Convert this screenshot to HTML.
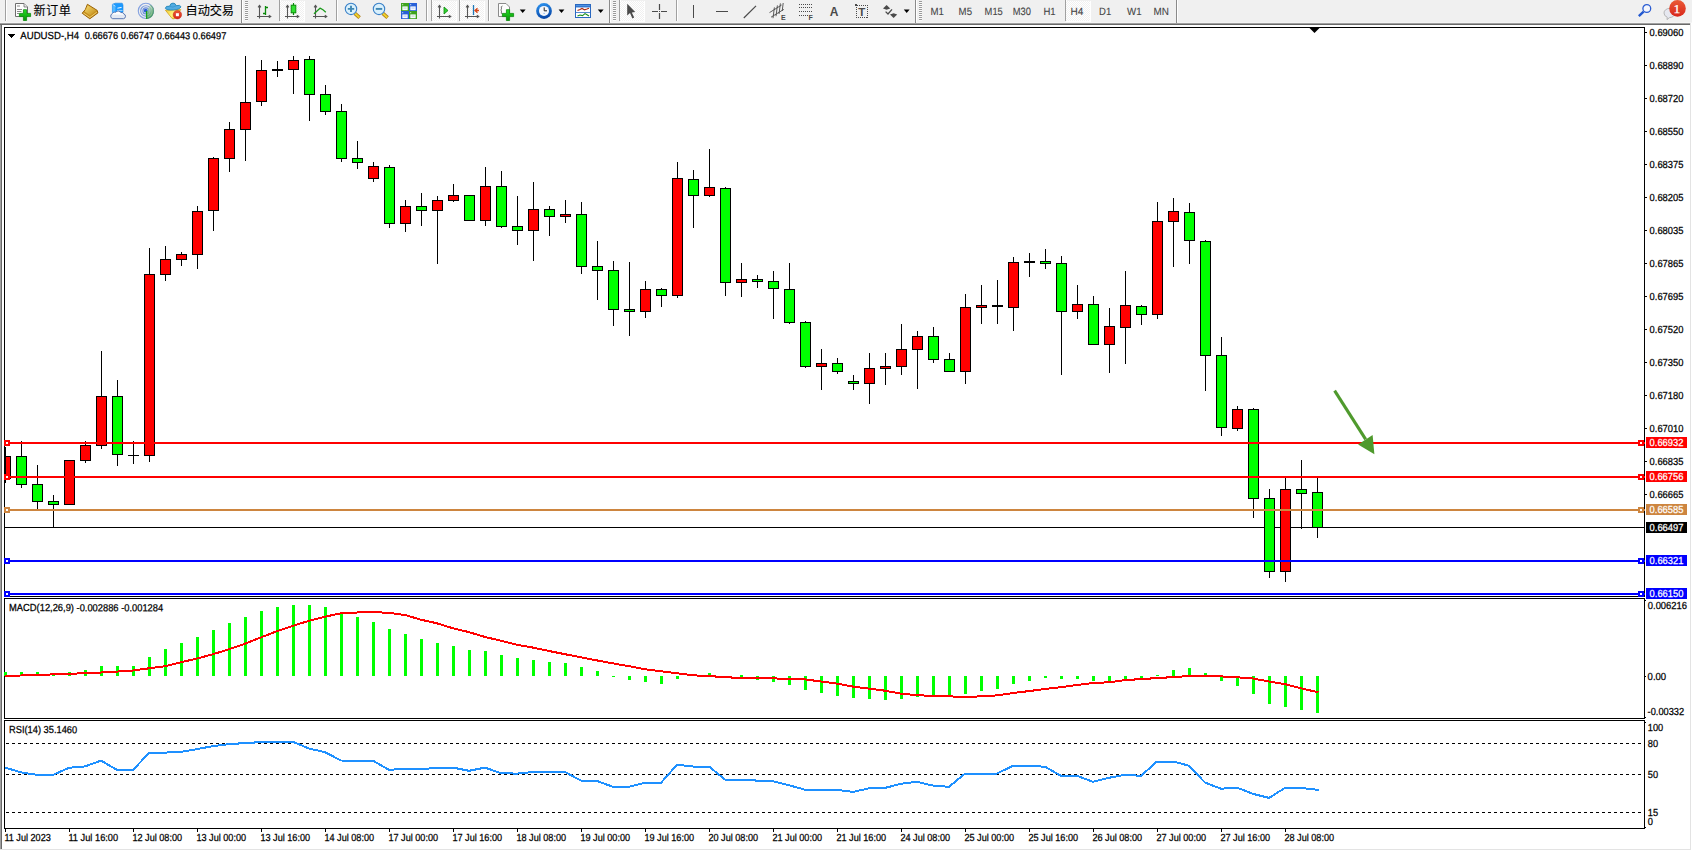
<!DOCTYPE html>
<html><head><meta charset="utf-8"><title>AUDUSD-,H4</title>
<style>
html,body{margin:0;padding:0;background:#fff;overflow:hidden}
svg{display:block;font-family:"Liberation Sans", "Noto Sans CJK SC", sans-serif;font-size:10px}
</style></head><body>
<svg width="1692" height="851" viewBox="0 0 1692 851">
<defs>
<pattern id="chk" width="2" height="2" patternUnits="userSpaceOnUse"><rect width="2" height="2" fill="#fff"/><rect width="1" height="1" fill="#f0f0f0"/><rect x="1" y="1" width="1" height="1" fill="#f0f0f0"/></pattern>
<linearGradient id="gplus" x1="0" y1="0" x2="0" y2="1"><stop offset="0" stop-color="#22e022"/><stop offset="1" stop-color="#089008"/></linearGradient>
<linearGradient id="gold" x1="0" y1="0" x2="1" y2="1"><stop offset="0" stop-color="#f8dc70"/><stop offset="1" stop-color="#c08a18"/></linearGradient>
<linearGradient id="badge" x1="0" y1="0" x2="0" y2="1"><stop offset="0" stop-color="#ea5a36"/><stop offset="1" stop-color="#d8261a"/></linearGradient>
<linearGradient id="bluebar" x1="0" y1="0" x2="0" y2="1"><stop offset="0" stop-color="#5aa0ea"/><stop offset="1" stop-color="#1e5fc0"/></linearGradient>
<linearGradient id="sgreen" x1="0" y1="0" x2="0.4" y2="1"><stop offset="0" stop-color="#dfeedd"/><stop offset="1" stop-color="#2f9a3a"/></linearGradient><linearGradient id="ycone" x1="0" y1="0" x2="1" y2="0.4"><stop offset="0" stop-color="#f2c828"/><stop offset="0.55" stop-color="#fff27a"/><stop offset="1" stop-color="#f0c020"/></linearGradient>
<linearGradient id="clk" x1="0" y1="0" x2="0.3" y2="1"><stop offset="0" stop-color="#2f98f4"/><stop offset="1" stop-color="#0848a8"/></linearGradient>
</defs>
<rect x="0" y="0" width="1692" height="851" fill="#fff"/>
<rect x="0" y="0" width="1692" height="22" fill="#f0f0f0"/>
<rect x="0" y="22" width="1692" height="1" fill="#f5f5f5"/>
<rect x="0" y="23" width="1690" height="1" fill="#a0a0a0"/>
<rect x="0" y="24" width="1690" height="1" fill="#696969"/>
<rect x="0" y="25" width="1" height="824" fill="#a0a0a0"/>
<rect x="1" y="25" width="1" height="824" fill="#696969"/>
<rect x="1690" y="23" width="1" height="827" fill="#e3e3e3"/>
<rect x="1691" y="23" width="1" height="828" fill="#fff"/>
<rect x="0" y="849" width="1691" height="1" fill="#e3e3e3"/>
<rect x="0" y="850" width="1692" height="1" fill="#fff"/>
<rect x="4" y="27" width="1641" height="1" fill="#000"/>
<rect x="4" y="27" width="1" height="802" fill="#000"/>
<rect x="1644" y="27" width="1" height="802" fill="#000"/>
<rect x="4" y="596" width="1641" height="1" fill="#000"/>
<rect x="4" y="597" width="1641" height="1" fill="#fff"/>
<rect x="4" y="598" width="1641" height="1" fill="#000"/>
<rect x="4" y="718" width="1641" height="1" fill="#000"/>
<rect x="4" y="719" width="1641" height="1" fill="#fff"/>
<rect x="4" y="720" width="1641" height="1" fill="#000"/>
<rect x="4" y="828" width="1641" height="1" fill="#000"/>
<rect x="1645" y="717" width="1" height="1" fill="#000"/>
<rect x="1645" y="722" width="1" height="1" fill="#000"/>
<rect x="1645" y="827" width="1" height="1" fill="#000"/>
<rect x="1645" y="32" width="2" height="1" fill="#000"/>
<text transform="translate(1649.6,36) matrix(0.9194,0.002,0,1,0,0)" fill="#000" stroke="#000" stroke-width="0.25" font-size="10.2">0.69060</text>
<rect x="1645" y="65" width="2" height="1" fill="#000"/>
<text transform="translate(1649.6,69) matrix(0.9194,0.002,0,1,0,0)" fill="#000" stroke="#000" stroke-width="0.25" font-size="10.2">0.68890</text>
<rect x="1645" y="98" width="2" height="1" fill="#000"/>
<text transform="translate(1649.6,102) matrix(0.9194,0.002,0,1,0,0)" fill="#000" stroke="#000" stroke-width="0.25" font-size="10.2">0.68720</text>
<rect x="1645" y="131" width="2" height="1" fill="#000"/>
<text transform="translate(1649.6,135) matrix(0.9194,0.002,0,1,0,0)" fill="#000" stroke="#000" stroke-width="0.25" font-size="10.2">0.68550</text>
<rect x="1645" y="164" width="2" height="1" fill="#000"/>
<text transform="translate(1649.6,168) matrix(0.9194,0.002,0,1,0,0)" fill="#000" stroke="#000" stroke-width="0.25" font-size="10.2">0.68375</text>
<rect x="1645" y="197" width="2" height="1" fill="#000"/>
<text transform="translate(1649.6,201) matrix(0.9194,0.002,0,1,0,0)" fill="#000" stroke="#000" stroke-width="0.25" font-size="10.2">0.68205</text>
<rect x="1645" y="230" width="2" height="1" fill="#000"/>
<text transform="translate(1649.6,234) matrix(0.9194,0.002,0,1,0,0)" fill="#000" stroke="#000" stroke-width="0.25" font-size="10.2">0.68035</text>
<rect x="1645" y="263" width="2" height="1" fill="#000"/>
<text transform="translate(1649.6,267) matrix(0.9194,0.002,0,1,0,0)" fill="#000" stroke="#000" stroke-width="0.25" font-size="10.2">0.67865</text>
<rect x="1645" y="296" width="2" height="1" fill="#000"/>
<text transform="translate(1649.6,300) matrix(0.9194,0.002,0,1,0,0)" fill="#000" stroke="#000" stroke-width="0.25" font-size="10.2">0.67695</text>
<rect x="1645" y="329" width="2" height="1" fill="#000"/>
<text transform="translate(1649.6,333) matrix(0.9194,0.002,0,1,0,0)" fill="#000" stroke="#000" stroke-width="0.25" font-size="10.2">0.67520</text>
<rect x="1645" y="362" width="2" height="1" fill="#000"/>
<text transform="translate(1649.6,366) matrix(0.9194,0.002,0,1,0,0)" fill="#000" stroke="#000" stroke-width="0.25" font-size="10.2">0.67350</text>
<rect x="1645" y="395" width="2" height="1" fill="#000"/>
<text transform="translate(1649.6,399) matrix(0.9194,0.002,0,1,0,0)" fill="#000" stroke="#000" stroke-width="0.25" font-size="10.2">0.67180</text>
<rect x="1645" y="428" width="2" height="1" fill="#000"/>
<text transform="translate(1649.6,432) matrix(0.9194,0.002,0,1,0,0)" fill="#000" stroke="#000" stroke-width="0.25" font-size="10.2">0.67010</text>
<rect x="1645" y="461" width="2" height="1" fill="#000"/>
<text transform="translate(1649.6,465) matrix(0.9194,0.002,0,1,0,0)" fill="#000" stroke="#000" stroke-width="0.25" font-size="10.2">0.66835</text>
<rect x="1645" y="494" width="2" height="1" fill="#000"/>
<text transform="translate(1649.6,498) matrix(0.9194,0.002,0,1,0,0)" fill="#000" stroke="#000" stroke-width="0.25" font-size="10.2">0.66665</text>
<text transform="translate(1647.8,609) matrix(0.9238,0.002,0,1,0,0)" fill="#000" stroke="#000" stroke-width="0.25" font-size="10.2">0.006216</text>
<rect x="1645" y="676" width="1" height="1" fill="#000"/>
<rect x="1645" y="600" width="1" height="1" fill="#000"/>
<text transform="translate(1647.6,680) matrix(0.9369,0.002,0,1,0,0)" fill="#000" stroke="#000" stroke-width="0.25" font-size="10.2">0.00</text>
<text transform="translate(1647.6,715) matrix(0.9089,0.002,0,1,0,0)" fill="#000" stroke="#000" stroke-width="0.25" font-size="10.2">-0.00332</text>
<text transform="translate(1647.8,731) matrix(0.9049,0.002,0,1,0,0)" fill="#000" stroke="#000" stroke-width="0.25" font-size="10.2">100</text>
<text transform="translate(1647.8,747) matrix(0.9078,0.002,0,1,0,0)" fill="#000" stroke="#000" stroke-width="0.25" font-size="10.2">80</text>
<text transform="translate(1647.8,778) matrix(0.9078,0.002,0,1,0,0)" fill="#000" stroke="#000" stroke-width="0.25" font-size="10.2">50</text>
<text transform="translate(1647.8,816) matrix(0.9078,0.002,0,1,0,0)" fill="#000" stroke="#000" stroke-width="0.25" font-size="10.2">15</text>
<text transform="translate(1647.8,825) matrix(0.9167,0.002,0,1,0,0)" fill="#000" stroke="#000" stroke-width="0.25" font-size="10.2">0</text>
<rect x="5" y="829" width="1" height="3" fill="#000"/>
<text transform="translate(4.4,841) matrix(0.8925,0.002,0,1,0,0)" fill="#000" stroke="#000" stroke-width="0.25" font-size="10.2">11 Jul 2023</text>
<rect x="69" y="829" width="1" height="3" fill="#000"/>
<text transform="translate(68.4,841) matrix(0.9084,0.002,0,1,0,0)" fill="#000" stroke="#000" stroke-width="0.25" font-size="10.2">11 Jul 16:00</text>
<rect x="133" y="829" width="1" height="3" fill="#000"/>
<text transform="translate(132.4,841) matrix(0.8961,0.002,0,1,0,0)" fill="#000" stroke="#000" stroke-width="0.25" font-size="10.2">12 Jul 08:00</text>
<rect x="197" y="829" width="1" height="3" fill="#000"/>
<text transform="translate(196.4,841) matrix(0.8961,0.002,0,1,0,0)" fill="#000" stroke="#000" stroke-width="0.25" font-size="10.2">13 Jul 00:00</text>
<rect x="261" y="829" width="1" height="3" fill="#000"/>
<text transform="translate(260.4,841) matrix(0.8961,0.002,0,1,0,0)" fill="#000" stroke="#000" stroke-width="0.25" font-size="10.2">13 Jul 16:00</text>
<rect x="325" y="829" width="1" height="3" fill="#000"/>
<text transform="translate(324.4,841) matrix(0.8961,0.002,0,1,0,0)" fill="#000" stroke="#000" stroke-width="0.25" font-size="10.2">14 Jul 08:00</text>
<rect x="389" y="829" width="1" height="3" fill="#000"/>
<text transform="translate(388.4,841) matrix(0.8961,0.002,0,1,0,0)" fill="#000" stroke="#000" stroke-width="0.25" font-size="10.2">17 Jul 00:00</text>
<rect x="453" y="829" width="1" height="3" fill="#000"/>
<text transform="translate(452.4,841) matrix(0.8961,0.002,0,1,0,0)" fill="#000" stroke="#000" stroke-width="0.25" font-size="10.2">17 Jul 16:00</text>
<rect x="517" y="829" width="1" height="3" fill="#000"/>
<text transform="translate(516.4,841) matrix(0.8961,0.002,0,1,0,0)" fill="#000" stroke="#000" stroke-width="0.25" font-size="10.2">18 Jul 08:00</text>
<rect x="581" y="829" width="1" height="3" fill="#000"/>
<text transform="translate(580.4,841) matrix(0.8961,0.002,0,1,0,0)" fill="#000" stroke="#000" stroke-width="0.25" font-size="10.2">19 Jul 00:00</text>
<rect x="645" y="829" width="1" height="3" fill="#000"/>
<text transform="translate(644.4,841) matrix(0.8961,0.002,0,1,0,0)" fill="#000" stroke="#000" stroke-width="0.25" font-size="10.2">19 Jul 16:00</text>
<rect x="709" y="829" width="1" height="3" fill="#000"/>
<text transform="translate(708.4,841) matrix(0.8961,0.002,0,1,0,0)" fill="#000" stroke="#000" stroke-width="0.25" font-size="10.2">20 Jul 08:00</text>
<rect x="773" y="829" width="1" height="3" fill="#000"/>
<text transform="translate(772.4,841) matrix(0.8961,0.002,0,1,0,0)" fill="#000" stroke="#000" stroke-width="0.25" font-size="10.2">21 Jul 00:00</text>
<rect x="837" y="829" width="1" height="3" fill="#000"/>
<text transform="translate(836.4,841) matrix(0.8961,0.002,0,1,0,0)" fill="#000" stroke="#000" stroke-width="0.25" font-size="10.2">21 Jul 16:00</text>
<rect x="901" y="829" width="1" height="3" fill="#000"/>
<text transform="translate(900.4,841) matrix(0.8961,0.002,0,1,0,0)" fill="#000" stroke="#000" stroke-width="0.25" font-size="10.2">24 Jul 08:00</text>
<rect x="965" y="829" width="1" height="3" fill="#000"/>
<text transform="translate(964.4,841) matrix(0.8961,0.002,0,1,0,0)" fill="#000" stroke="#000" stroke-width="0.25" font-size="10.2">25 Jul 00:00</text>
<rect x="1029" y="829" width="1" height="3" fill="#000"/>
<text transform="translate(1028.4,841) matrix(0.8961,0.002,0,1,0,0)" fill="#000" stroke="#000" stroke-width="0.25" font-size="10.2">25 Jul 16:00</text>
<rect x="1093" y="829" width="1" height="3" fill="#000"/>
<text transform="translate(1092.4,841) matrix(0.8961,0.002,0,1,0,0)" fill="#000" stroke="#000" stroke-width="0.25" font-size="10.2">26 Jul 08:00</text>
<rect x="1157" y="829" width="1" height="3" fill="#000"/>
<text transform="translate(1156.4,841) matrix(0.8961,0.002,0,1,0,0)" fill="#000" stroke="#000" stroke-width="0.25" font-size="10.2">27 Jul 00:00</text>
<rect x="1221" y="829" width="1" height="3" fill="#000"/>
<text transform="translate(1220.4,841) matrix(0.8961,0.002,0,1,0,0)" fill="#000" stroke="#000" stroke-width="0.25" font-size="10.2">27 Jul 16:00</text>
<rect x="1285" y="829" width="1" height="3" fill="#000"/>
<text transform="translate(1284.4,841) matrix(0.8961,0.002,0,1,0,0)" fill="#000" stroke="#000" stroke-width="0.25" font-size="10.2">28 Jul 08:00</text>
<g shape-rendering="crispEdges">
<rect x="5" y="527" width="1639" height="1" fill="#000"/>
<polygon points="8,34 15,34 11.5,37.6" fill="#000"/>
<rect x="5" y="447" width="1" height="36" fill="#000"/>
<rect x="5" y="456" width="6" height="23" fill="#000"/>
<rect x="6" y="457" width="4" height="21" fill="#ff0000"/>
<rect x="5" y="447" width="1" height="36" fill="#000"/>
<rect x="21" y="441" width="1" height="47" fill="#000"/>
<rect x="16" y="456" width="11" height="29" fill="#000"/>
<rect x="17" y="457" width="9" height="27" fill="#00ff00"/>
<rect x="37" y="465" width="1" height="45" fill="#000"/>
<rect x="32" y="484" width="11" height="18" fill="#000"/>
<rect x="33" y="485" width="9" height="16" fill="#00ff00"/>
<rect x="53" y="495" width="1" height="33" fill="#000"/>
<rect x="48" y="501" width="11" height="4" fill="#000"/>
<rect x="49" y="502" width="9" height="2" fill="#00ff00"/>
<rect x="69" y="460" width="1" height="45" fill="#000"/>
<rect x="64" y="460" width="11" height="45" fill="#000"/>
<rect x="65" y="461" width="9" height="43" fill="#ff0000"/>
<rect x="85" y="441" width="1" height="22" fill="#000"/>
<rect x="80" y="445" width="11" height="16" fill="#000"/>
<rect x="81" y="446" width="9" height="14" fill="#ff0000"/>
<rect x="101" y="351" width="1" height="98" fill="#000"/>
<rect x="96" y="396" width="11" height="50" fill="#000"/>
<rect x="97" y="397" width="9" height="48" fill="#ff0000"/>
<rect x="117" y="380" width="1" height="86" fill="#000"/>
<rect x="112" y="396" width="11" height="59" fill="#000"/>
<rect x="113" y="397" width="9" height="57" fill="#00ff00"/>
<rect x="133" y="441" width="1" height="23" fill="#000"/>
<rect x="128" y="455" width="11" height="1" fill="#000"/>
<rect x="149" y="248" width="1" height="214" fill="#000"/>
<rect x="144" y="274" width="11" height="182" fill="#000"/>
<rect x="145" y="275" width="9" height="180" fill="#ff0000"/>
<rect x="165" y="246" width="1" height="35" fill="#000"/>
<rect x="160" y="259" width="11" height="16" fill="#000"/>
<rect x="161" y="260" width="9" height="14" fill="#ff0000"/>
<rect x="181" y="252" width="1" height="14" fill="#000"/>
<rect x="176" y="254" width="11" height="6" fill="#000"/>
<rect x="177" y="255" width="9" height="4" fill="#ff0000"/>
<rect x="197" y="206" width="1" height="63" fill="#000"/>
<rect x="192" y="211" width="11" height="44" fill="#000"/>
<rect x="193" y="212" width="9" height="42" fill="#ff0000"/>
<rect x="213" y="157" width="1" height="74" fill="#000"/>
<rect x="208" y="158" width="11" height="53" fill="#000"/>
<rect x="209" y="159" width="9" height="51" fill="#ff0000"/>
<rect x="229" y="122" width="1" height="50" fill="#000"/>
<rect x="224" y="129" width="11" height="30" fill="#000"/>
<rect x="225" y="130" width="9" height="28" fill="#ff0000"/>
<rect x="245" y="56" width="1" height="105" fill="#000"/>
<rect x="240" y="102" width="11" height="28" fill="#000"/>
<rect x="241" y="103" width="9" height="26" fill="#ff0000"/>
<rect x="261" y="60" width="1" height="46" fill="#000"/>
<rect x="256" y="70" width="11" height="32" fill="#000"/>
<rect x="257" y="71" width="9" height="30" fill="#ff0000"/>
<rect x="277" y="61" width="1" height="16" fill="#000"/>
<rect x="272" y="69" width="11" height="2" fill="#000"/>
<rect x="293" y="56" width="1" height="38" fill="#000"/>
<rect x="288" y="60" width="11" height="10" fill="#000"/>
<rect x="289" y="61" width="9" height="8" fill="#ff0000"/>
<rect x="309" y="56" width="1" height="65" fill="#000"/>
<rect x="304" y="59" width="11" height="36" fill="#000"/>
<rect x="305" y="60" width="9" height="34" fill="#00ff00"/>
<rect x="325" y="85" width="1" height="30" fill="#000"/>
<rect x="320" y="94" width="11" height="18" fill="#000"/>
<rect x="321" y="95" width="9" height="16" fill="#00ff00"/>
<rect x="341" y="104" width="1" height="58" fill="#000"/>
<rect x="336" y="111" width="11" height="48" fill="#000"/>
<rect x="337" y="112" width="9" height="46" fill="#00ff00"/>
<rect x="357" y="141" width="1" height="28" fill="#000"/>
<rect x="352" y="158" width="11" height="5" fill="#000"/>
<rect x="353" y="159" width="9" height="3" fill="#00ff00"/>
<rect x="373" y="162" width="1" height="20" fill="#000"/>
<rect x="368" y="166" width="11" height="13" fill="#000"/>
<rect x="369" y="167" width="9" height="11" fill="#ff0000"/>
<rect x="389" y="165" width="1" height="63" fill="#000"/>
<rect x="384" y="167" width="11" height="57" fill="#000"/>
<rect x="385" y="168" width="9" height="55" fill="#00ff00"/>
<rect x="405" y="200" width="1" height="32" fill="#000"/>
<rect x="400" y="206" width="11" height="18" fill="#000"/>
<rect x="401" y="207" width="9" height="16" fill="#ff0000"/>
<rect x="421" y="193" width="1" height="33" fill="#000"/>
<rect x="416" y="206" width="11" height="5" fill="#000"/>
<rect x="417" y="207" width="9" height="3" fill="#00ff00"/>
<rect x="437" y="196" width="1" height="68" fill="#000"/>
<rect x="432" y="200" width="11" height="11" fill="#000"/>
<rect x="433" y="201" width="9" height="9" fill="#ff0000"/>
<rect x="453" y="184" width="1" height="18" fill="#000"/>
<rect x="448" y="195" width="11" height="6" fill="#000"/>
<rect x="449" y="196" width="9" height="4" fill="#ff0000"/>
<rect x="469" y="195" width="1" height="26" fill="#000"/>
<rect x="464" y="195" width="11" height="26" fill="#000"/>
<rect x="465" y="196" width="9" height="24" fill="#00ff00"/>
<rect x="485" y="167" width="1" height="59" fill="#000"/>
<rect x="480" y="186" width="11" height="35" fill="#000"/>
<rect x="481" y="187" width="9" height="33" fill="#ff0000"/>
<rect x="501" y="171" width="1" height="57" fill="#000"/>
<rect x="496" y="186" width="11" height="41" fill="#000"/>
<rect x="497" y="187" width="9" height="39" fill="#00ff00"/>
<rect x="517" y="196" width="1" height="49" fill="#000"/>
<rect x="512" y="226" width="11" height="5" fill="#000"/>
<rect x="513" y="227" width="9" height="3" fill="#00ff00"/>
<rect x="533" y="182" width="1" height="79" fill="#000"/>
<rect x="528" y="209" width="11" height="22" fill="#000"/>
<rect x="529" y="210" width="9" height="20" fill="#ff0000"/>
<rect x="549" y="206" width="1" height="30" fill="#000"/>
<rect x="544" y="209" width="11" height="8" fill="#000"/>
<rect x="545" y="210" width="9" height="6" fill="#00ff00"/>
<rect x="565" y="200" width="1" height="23" fill="#000"/>
<rect x="560" y="214" width="11" height="3" fill="#000"/>
<rect x="561" y="215" width="9" height="1" fill="#ff0000"/>
<rect x="581" y="202" width="1" height="72" fill="#000"/>
<rect x="576" y="214" width="11" height="53" fill="#000"/>
<rect x="577" y="215" width="9" height="51" fill="#00ff00"/>
<rect x="597" y="241" width="1" height="59" fill="#000"/>
<rect x="592" y="266" width="11" height="5" fill="#000"/>
<rect x="593" y="267" width="9" height="3" fill="#00ff00"/>
<rect x="613" y="261" width="1" height="65" fill="#000"/>
<rect x="608" y="270" width="11" height="40" fill="#000"/>
<rect x="609" y="271" width="9" height="38" fill="#00ff00"/>
<rect x="629" y="262" width="1" height="74" fill="#000"/>
<rect x="624" y="309" width="11" height="3" fill="#000"/>
<rect x="625" y="310" width="9" height="1" fill="#00ff00"/>
<rect x="645" y="281" width="1" height="37" fill="#000"/>
<rect x="640" y="289" width="11" height="23" fill="#000"/>
<rect x="641" y="290" width="9" height="21" fill="#ff0000"/>
<rect x="661" y="288" width="1" height="19" fill="#000"/>
<rect x="656" y="289" width="11" height="7" fill="#000"/>
<rect x="657" y="290" width="9" height="5" fill="#00ff00"/>
<rect x="677" y="162" width="1" height="136" fill="#000"/>
<rect x="672" y="178" width="11" height="118" fill="#000"/>
<rect x="673" y="179" width="9" height="116" fill="#ff0000"/>
<rect x="693" y="170" width="1" height="58" fill="#000"/>
<rect x="688" y="179" width="11" height="17" fill="#000"/>
<rect x="689" y="180" width="9" height="15" fill="#00ff00"/>
<rect x="709" y="149" width="1" height="48" fill="#000"/>
<rect x="704" y="187" width="11" height="9" fill="#000"/>
<rect x="705" y="188" width="9" height="7" fill="#ff0000"/>
<rect x="725" y="187" width="1" height="109" fill="#000"/>
<rect x="720" y="188" width="11" height="95" fill="#000"/>
<rect x="721" y="189" width="9" height="93" fill="#00ff00"/>
<rect x="741" y="263" width="1" height="34" fill="#000"/>
<rect x="736" y="279" width="11" height="4" fill="#000"/>
<rect x="737" y="280" width="9" height="2" fill="#ff0000"/>
<rect x="757" y="275" width="1" height="13" fill="#000"/>
<rect x="752" y="279" width="11" height="3" fill="#000"/>
<rect x="753" y="280" width="9" height="1" fill="#00ff00"/>
<rect x="773" y="271" width="1" height="48" fill="#000"/>
<rect x="768" y="281" width="11" height="8" fill="#000"/>
<rect x="769" y="282" width="9" height="6" fill="#00ff00"/>
<rect x="789" y="263" width="1" height="61" fill="#000"/>
<rect x="784" y="289" width="11" height="34" fill="#000"/>
<rect x="785" y="290" width="9" height="32" fill="#00ff00"/>
<rect x="805" y="321" width="1" height="47" fill="#000"/>
<rect x="800" y="322" width="11" height="45" fill="#000"/>
<rect x="801" y="323" width="9" height="43" fill="#00ff00"/>
<rect x="821" y="349" width="1" height="41" fill="#000"/>
<rect x="816" y="363" width="11" height="4" fill="#000"/>
<rect x="817" y="364" width="9" height="2" fill="#ff0000"/>
<rect x="837" y="358" width="1" height="16" fill="#000"/>
<rect x="832" y="363" width="11" height="9" fill="#000"/>
<rect x="833" y="364" width="9" height="7" fill="#00ff00"/>
<rect x="853" y="375" width="1" height="15" fill="#000"/>
<rect x="848" y="381" width="11" height="3" fill="#000"/>
<rect x="849" y="382" width="9" height="1" fill="#00ff00"/>
<rect x="869" y="353" width="1" height="51" fill="#000"/>
<rect x="864" y="368" width="11" height="16" fill="#000"/>
<rect x="865" y="369" width="9" height="14" fill="#ff0000"/>
<rect x="885" y="353" width="1" height="32" fill="#000"/>
<rect x="880" y="366" width="11" height="3" fill="#000"/>
<rect x="881" y="367" width="9" height="1" fill="#ff0000"/>
<rect x="901" y="324" width="1" height="51" fill="#000"/>
<rect x="896" y="349" width="11" height="18" fill="#000"/>
<rect x="897" y="350" width="9" height="16" fill="#ff0000"/>
<rect x="917" y="331" width="1" height="58" fill="#000"/>
<rect x="912" y="336" width="11" height="14" fill="#000"/>
<rect x="913" y="337" width="9" height="12" fill="#ff0000"/>
<rect x="933" y="327" width="1" height="36" fill="#000"/>
<rect x="928" y="336" width="11" height="24" fill="#000"/>
<rect x="929" y="337" width="9" height="22" fill="#00ff00"/>
<rect x="949" y="353" width="1" height="19" fill="#000"/>
<rect x="944" y="359" width="11" height="13" fill="#000"/>
<rect x="945" y="360" width="9" height="11" fill="#00ff00"/>
<rect x="965" y="294" width="1" height="90" fill="#000"/>
<rect x="960" y="307" width="11" height="65" fill="#000"/>
<rect x="961" y="308" width="9" height="63" fill="#ff0000"/>
<rect x="981" y="285" width="1" height="39" fill="#000"/>
<rect x="976" y="305" width="11" height="3" fill="#000"/>
<rect x="977" y="306" width="9" height="1" fill="#ff0000"/>
<rect x="997" y="280" width="1" height="44" fill="#000"/>
<rect x="992" y="305" width="11" height="2" fill="#000"/>
<rect x="1013" y="257" width="1" height="74" fill="#000"/>
<rect x="1008" y="262" width="11" height="46" fill="#000"/>
<rect x="1009" y="263" width="9" height="44" fill="#ff0000"/>
<rect x="1029" y="253" width="1" height="24" fill="#000"/>
<rect x="1024" y="261" width="11" height="2" fill="#000"/>
<rect x="1045" y="249" width="1" height="20" fill="#000"/>
<rect x="1040" y="261" width="11" height="3" fill="#000"/>
<rect x="1041" y="262" width="9" height="1" fill="#00ff00"/>
<rect x="1061" y="256" width="1" height="119" fill="#000"/>
<rect x="1056" y="263" width="11" height="49" fill="#000"/>
<rect x="1057" y="264" width="9" height="47" fill="#00ff00"/>
<rect x="1077" y="285" width="1" height="34" fill="#000"/>
<rect x="1072" y="304" width="11" height="8" fill="#000"/>
<rect x="1073" y="305" width="9" height="6" fill="#ff0000"/>
<rect x="1093" y="296" width="1" height="49" fill="#000"/>
<rect x="1088" y="304" width="11" height="41" fill="#000"/>
<rect x="1089" y="305" width="9" height="39" fill="#00ff00"/>
<rect x="1109" y="308" width="1" height="65" fill="#000"/>
<rect x="1104" y="326" width="11" height="19" fill="#000"/>
<rect x="1105" y="327" width="9" height="17" fill="#ff0000"/>
<rect x="1125" y="271" width="1" height="93" fill="#000"/>
<rect x="1120" y="305" width="11" height="23" fill="#000"/>
<rect x="1121" y="306" width="9" height="21" fill="#ff0000"/>
<rect x="1141" y="305" width="1" height="20" fill="#000"/>
<rect x="1136" y="306" width="11" height="9" fill="#000"/>
<rect x="1137" y="307" width="9" height="7" fill="#00ff00"/>
<rect x="1157" y="202" width="1" height="117" fill="#000"/>
<rect x="1152" y="221" width="11" height="94" fill="#000"/>
<rect x="1153" y="222" width="9" height="92" fill="#ff0000"/>
<rect x="1173" y="198" width="1" height="69" fill="#000"/>
<rect x="1168" y="211" width="11" height="11" fill="#000"/>
<rect x="1169" y="212" width="9" height="9" fill="#ff0000"/>
<rect x="1189" y="203" width="1" height="61" fill="#000"/>
<rect x="1184" y="212" width="11" height="29" fill="#000"/>
<rect x="1185" y="213" width="9" height="27" fill="#00ff00"/>
<rect x="1205" y="240" width="1" height="151" fill="#000"/>
<rect x="1200" y="241" width="11" height="115" fill="#000"/>
<rect x="1201" y="242" width="9" height="113" fill="#00ff00"/>
<rect x="1221" y="337" width="1" height="99" fill="#000"/>
<rect x="1216" y="355" width="11" height="73" fill="#000"/>
<rect x="1217" y="356" width="9" height="71" fill="#00ff00"/>
<rect x="1237" y="406" width="1" height="25" fill="#000"/>
<rect x="1232" y="409" width="11" height="20" fill="#000"/>
<rect x="1233" y="410" width="9" height="18" fill="#ff0000"/>
<rect x="1253" y="408" width="1" height="110" fill="#000"/>
<rect x="1248" y="409" width="11" height="90" fill="#000"/>
<rect x="1249" y="410" width="9" height="88" fill="#00ff00"/>
<rect x="1269" y="489" width="1" height="89" fill="#000"/>
<rect x="1264" y="498" width="11" height="74" fill="#000"/>
<rect x="1265" y="499" width="9" height="72" fill="#00ff00"/>
<rect x="1285" y="478" width="1" height="104" fill="#000"/>
<rect x="1280" y="489" width="11" height="83" fill="#000"/>
<rect x="1281" y="490" width="9" height="81" fill="#ff0000"/>
<rect x="1301" y="460" width="1" height="69" fill="#000"/>
<rect x="1296" y="489" width="11" height="5" fill="#000"/>
<rect x="1297" y="490" width="9" height="3" fill="#00ff00"/>
<rect x="1317" y="478" width="1" height="60" fill="#000"/>
<rect x="1312" y="492" width="11" height="36" fill="#000"/>
<rect x="1313" y="493" width="9" height="34" fill="#00ff00"/>
<rect x="5" y="442" width="1640" height="2" fill="#ff0000"/>
<rect x="4" y="440" width="6" height="6" fill="#ff0000"/>
<rect x="6" y="442" width="2" height="2" fill="#fff"/>
<rect x="1638" y="440" width="6" height="6" fill="#ff0000"/>
<rect x="1640" y="442" width="2" height="2" fill="#fff"/>
<rect x="1646" y="437" width="41" height="11" fill="#ff0000"/>
<text transform="translate(1649.6,446) matrix(0.9194,0.002,0,1,0,0)" fill="#fff" stroke="#fff" stroke-width="0.25" font-size="10.2">0.66932</text>
<rect x="5" y="476" width="1640" height="2" fill="#ff0000"/>
<rect x="4" y="474" width="6" height="6" fill="#ff0000"/>
<rect x="6" y="476" width="2" height="2" fill="#fff"/>
<rect x="1638" y="474" width="6" height="6" fill="#ff0000"/>
<rect x="1640" y="476" width="2" height="2" fill="#fff"/>
<rect x="1646" y="471" width="41" height="11" fill="#ff0000"/>
<text transform="translate(1649.6,480) matrix(0.9194,0.002,0,1,0,0)" fill="#fff" stroke="#fff" stroke-width="0.25" font-size="10.2">0.66756</text>
<rect x="5" y="509" width="1640" height="2" fill="#cd853f"/>
<rect x="4" y="507" width="6" height="6" fill="#cd853f"/>
<rect x="6" y="509" width="2" height="2" fill="#fff"/>
<rect x="1638" y="507" width="6" height="6" fill="#cd853f"/>
<rect x="1640" y="509" width="2" height="2" fill="#fff"/>
<rect x="1646" y="504" width="41" height="11" fill="#cd853f"/>
<text transform="translate(1649.6,513) matrix(0.9194,0.002,0,1,0,0)" fill="#fff" stroke="#fff" stroke-width="0.25" font-size="10.2">0.66585</text>
<rect x="5" y="560" width="1640" height="2" fill="#0000ff"/>
<rect x="4" y="558" width="6" height="6" fill="#0000ff"/>
<rect x="6" y="560" width="2" height="2" fill="#fff"/>
<rect x="1638" y="558" width="6" height="6" fill="#0000ff"/>
<rect x="1640" y="560" width="2" height="2" fill="#fff"/>
<rect x="1646" y="555" width="41" height="11" fill="#0000ff"/>
<text transform="translate(1649.6,564) matrix(0.9194,0.002,0,1,0,0)" fill="#fff" stroke="#fff" stroke-width="0.25" font-size="10.2">0.66321</text>
<rect x="5" y="593" width="1640" height="2" fill="#0000ff"/>
<rect x="4" y="591" width="6" height="6" fill="#0000ff"/>
<rect x="6" y="593" width="2" height="2" fill="#fff"/>
<rect x="1638" y="591" width="6" height="6" fill="#0000ff"/>
<rect x="1640" y="593" width="2" height="2" fill="#fff"/>
<rect x="1646" y="588" width="41" height="11" fill="#0000ff"/>
<text transform="translate(1649.6,597) matrix(0.9194,0.002,0,1,0,0)" fill="#fff" stroke="#fff" stroke-width="0.25" font-size="10.2">0.66150</text>
<rect x="1646" y="522" width="41" height="11" fill="#000"/>
<text transform="translate(1649.6,531) matrix(0.9194,0.002,0,1,0,0)" fill="#fff" stroke="#fff" stroke-width="0.25" font-size="10.2">0.66497</text>
</g>
<polygon points="1309.5,28 1319.5,28 1314.5,33" fill="#000"/>
<g fill="#4f9a2d" stroke="none"><path d="M1333.3,391.4 L1335.9,389.8 L1367,438.6 L1364.4,440.2 Z"/><polygon points="1358.1,444.4 1372.6,435 1374.4,454.2"/></g>
<text transform="translate(20.3,39) matrix(0.9432,0.002,0,1,0,0)" fill="#000" stroke="#000" stroke-width="0.25" font-size="10.2">AUDUSD-,H4</text>
<text transform="translate(84.7,39) matrix(0.9091,0.002,0,1,0,0)" fill="#000" stroke="#000" stroke-width="0.25" font-size="10.2">0.66676 0.66747 0.66443 0.66497</text>
<g shape-rendering="crispEdges">
<rect x="4" y="672" width="3" height="4" fill="#00ff00"/>
<rect x="20" y="672" width="3" height="4" fill="#00ff00"/>
<rect x="36" y="672" width="3" height="4" fill="#00ff00"/>
<rect x="52" y="673" width="3" height="3" fill="#00ff00"/>
<rect x="68" y="672" width="3" height="4" fill="#00ff00"/>
<rect x="84" y="670" width="3" height="6" fill="#00ff00"/>
<rect x="100" y="666" width="3" height="10" fill="#00ff00"/>
<rect x="116" y="666" width="3" height="10" fill="#00ff00"/>
<rect x="132" y="666" width="3" height="10" fill="#00ff00"/>
<rect x="148" y="657" width="3" height="19" fill="#00ff00"/>
<rect x="164" y="649" width="3" height="27" fill="#00ff00"/>
<rect x="180" y="643" width="3" height="33" fill="#00ff00"/>
<rect x="196" y="637" width="3" height="39" fill="#00ff00"/>
<rect x="212" y="630" width="3" height="46" fill="#00ff00"/>
<rect x="228" y="623" width="3" height="53" fill="#00ff00"/>
<rect x="244" y="617" width="3" height="59" fill="#00ff00"/>
<rect x="260" y="611" width="3" height="65" fill="#00ff00"/>
<rect x="276" y="607" width="3" height="69" fill="#00ff00"/>
<rect x="292" y="605" width="3" height="71" fill="#00ff00"/>
<rect x="308" y="605" width="3" height="71" fill="#00ff00"/>
<rect x="324" y="607" width="3" height="69" fill="#00ff00"/>
<rect x="340" y="612" width="3" height="64" fill="#00ff00"/>
<rect x="356" y="617" width="3" height="59" fill="#00ff00"/>
<rect x="372" y="622" width="3" height="54" fill="#00ff00"/>
<rect x="388" y="629" width="3" height="47" fill="#00ff00"/>
<rect x="404" y="634" width="3" height="42" fill="#00ff00"/>
<rect x="420" y="639" width="3" height="37" fill="#00ff00"/>
<rect x="436" y="643" width="3" height="33" fill="#00ff00"/>
<rect x="452" y="646" width="3" height="30" fill="#00ff00"/>
<rect x="468" y="650" width="3" height="26" fill="#00ff00"/>
<rect x="484" y="651" width="3" height="25" fill="#00ff00"/>
<rect x="500" y="655" width="3" height="21" fill="#00ff00"/>
<rect x="516" y="658" width="3" height="18" fill="#00ff00"/>
<rect x="532" y="660" width="3" height="16" fill="#00ff00"/>
<rect x="548" y="662" width="3" height="14" fill="#00ff00"/>
<rect x="564" y="663" width="3" height="13" fill="#00ff00"/>
<rect x="580" y="667" width="3" height="9" fill="#00ff00"/>
<rect x="596" y="671" width="3" height="5" fill="#00ff00"/>
<rect x="612" y="676" width="3" height="1" fill="#00ff00"/>
<rect x="628" y="676" width="3" height="4" fill="#00ff00"/>
<rect x="644" y="676" width="3" height="6" fill="#00ff00"/>
<rect x="660" y="676" width="3" height="8" fill="#00ff00"/>
<rect x="676" y="676" width="3" height="3" fill="#00ff00"/>
<rect x="692" y="675" width="3" height="1" fill="#00ff00"/>
<rect x="708" y="673" width="3" height="3" fill="#00ff00"/>
<rect x="724" y="676" width="3" height="1" fill="#00ff00"/>
<rect x="740" y="675" width="3" height="2" fill="#00ff00"/>
<rect x="756" y="676" width="3" height="4" fill="#00ff00"/>
<rect x="772" y="676" width="3" height="6" fill="#00ff00"/>
<rect x="788" y="676" width="3" height="9" fill="#00ff00"/>
<rect x="804" y="676" width="3" height="14" fill="#00ff00"/>
<rect x="820" y="676" width="3" height="17" fill="#00ff00"/>
<rect x="836" y="676" width="3" height="20" fill="#00ff00"/>
<rect x="852" y="676" width="3" height="22" fill="#00ff00"/>
<rect x="868" y="676" width="3" height="23" fill="#00ff00"/>
<rect x="884" y="676" width="3" height="24" fill="#00ff00"/>
<rect x="900" y="676" width="3" height="23" fill="#00ff00"/>
<rect x="916" y="676" width="3" height="21" fill="#00ff00"/>
<rect x="932" y="676" width="3" height="20" fill="#00ff00"/>
<rect x="948" y="676" width="3" height="20" fill="#00ff00"/>
<rect x="964" y="676" width="3" height="18" fill="#00ff00"/>
<rect x="980" y="676" width="3" height="15" fill="#00ff00"/>
<rect x="996" y="676" width="3" height="13" fill="#00ff00"/>
<rect x="1012" y="676" width="3" height="8" fill="#00ff00"/>
<rect x="1028" y="676" width="3" height="5" fill="#00ff00"/>
<rect x="1044" y="676" width="3" height="2" fill="#00ff00"/>
<rect x="1060" y="676" width="3" height="3" fill="#00ff00"/>
<rect x="1076" y="676" width="3" height="3" fill="#00ff00"/>
<rect x="1092" y="676" width="3" height="5" fill="#00ff00"/>
<rect x="1108" y="676" width="3" height="6" fill="#00ff00"/>
<rect x="1124" y="676" width="3" height="4" fill="#00ff00"/>
<rect x="1140" y="676" width="3" height="3" fill="#00ff00"/>
<rect x="1156" y="675" width="3" height="1" fill="#00ff00"/>
<rect x="1172" y="670" width="3" height="6" fill="#00ff00"/>
<rect x="1188" y="668" width="3" height="8" fill="#00ff00"/>
<rect x="1204" y="673" width="3" height="3" fill="#00ff00"/>
<rect x="1220" y="676" width="3" height="5" fill="#00ff00"/>
<rect x="1236" y="676" width="3" height="10" fill="#00ff00"/>
<rect x="1252" y="676" width="3" height="18" fill="#00ff00"/>
<rect x="1268" y="676" width="3" height="28" fill="#00ff00"/>
<rect x="1284" y="676" width="3" height="31" fill="#00ff00"/>
<rect x="1300" y="676" width="3" height="34" fill="#00ff00"/>
<rect x="1316" y="676" width="3" height="37" fill="#00ff00"/>
<polyline points="5,675.9 21,675.5 37,675.0 53,674.4 69,673.8 85,673.2 101,672.5 117,671.6 133,670.5 149,668.3 165,666.3 181,662.2 197,658.6 213,654.2 229,649.3 245,643.7 261,637.4 277,631.2 293,625.8 309,620.8 325,616.7 341,613.2 357,612.5 373,612.0 389,612.9 405,615.0 421,619.7 437,623.3 453,628.3 469,632.1 485,637.0 501,640.7 517,644.8 533,647.6 549,651.0 565,654.2 581,657.3 597,660.4 613,663.4 629,666.2 645,669.3 661,671.2 677,673.2 693,675.3 709,676.1 725,677.1 741,678.1 757,678.1 773,678.4 789,678.8 805,679.4 821,681.5 837,683.6 853,686.6 869,688.6 885,690.7 901,693.7 917,695.1 933,696.0 949,696.4 965,696.8 981,696.4 997,695.4 1013,693.0 1029,691.1 1045,689.0 1061,687.2 1077,685.0 1093,683.0 1109,682.3 1125,680.1 1141,679.1 1157,678.1 1173,677.1 1189,676.0 1205,676.0 1221,676.4 1237,677.3 1253,678.5 1269,681.5 1285,684.1 1301,688.3 1317,692.0 1318.5,692.2" fill="none" stroke="#ff0000" stroke-width="2"/>
</g>
<text transform="translate(9.1,611) matrix(0.9168,0.002,0,1,0,0)" fill="#000" stroke="#000" stroke-width="0.25" font-size="10.2">MACD(12,26,9) -0.002886 -0.001284</text>
<g shape-rendering="crispEdges">
<line x1="6" y1="743.5" x2="1644" y2="743.5" stroke="#000" stroke-width="1" stroke-dasharray="3,3"/>
<line x1="6" y1="774.5" x2="1644" y2="774.5" stroke="#000" stroke-width="1" stroke-dasharray="3,3"/>
<line x1="6" y1="812.5" x2="1644" y2="812.5" stroke="#000" stroke-width="1" stroke-dasharray="3,3"/>
<polyline points="5,767.6 21,772.3 37,774.9 53,774.9 69,767.8 85,766.4 101,760.6 117,769.9 133,769.9 149,753.0 165,752.6 181,751.8 197,749.1 213,746.1 229,744.1 245,743.1 261,742.1 277,741.9 293,741.9 309,748.5 325,752.2 341,760.5 357,760.7 373,760.7 389,769.8 405,768.8 421,768.8 437,768.2 453,767.6 469,770.8 485,767.6 501,773.2 517,773.6 533,772.0 549,772.0 565,772.0 581,780.6 597,781.0 613,786.8 629,786.8 645,782.8 661,782.8 677,764.7 693,766.5 709,766.5 725,779.6 741,779.6 757,780.6 773,781.2 789,785.2 805,789.7 821,789.7 837,789.9 853,791.9 869,788.3 885,787.9 901,783.8 917,781.8 933,785.6 949,786.8 965,773.6 981,773.6 997,773.6 1013,765.7 1029,765.7 1045,766.8 1061,775.8 1077,775.8 1093,781.8 1109,777.8 1125,774.8 1141,775.8 1157,761.5 1173,761.5 1189,765.7 1205,782.6 1221,788.7 1237,787.6 1253,793.9 1269,797.9 1285,787.9 1301,787.9 1317,789.7 1318.5,789.7" fill="none" stroke="#1e90ff" stroke-width="2"/>
</g>
<text transform="translate(9,733) matrix(0.9112,0.002,0,1,0,0)" fill="#000" stroke="#000" stroke-width="0.25" font-size="10.2">RSI(14) 35.1460</text>
<rect x="5" y="0" width="1" height="21" fill="#a0a0a0"/>
<rect x="6" y="0" width="1" height="21" fill="#fff"/>
<g><path d="M15.5,3.5 H24 L27.5,7 V16.5 H15.5 Z" fill="#fdfdfd" stroke="#6e6e6e" stroke-width="1"/><path d="M24,3.5 V7 H27.5" fill="#e8e8e8" stroke="#6e6e6e" stroke-width="0.8"/><path d="M17,6 H20 M17,9.5 H22 M17,11.5 H21.5 M17,13.5 H19" stroke="#8a8a8a" stroke-width="1"/><path d="M23.4,9.7 H26.6 V13.4 H30.6 V16.6 H26.6 V20.5 H23.4 V16.6 H19.4 V13.4 H23.4 Z" fill="url(#gplus)" stroke="#0a8a0a" stroke-width="0.8"/></g>
<text x="33.4" y="14.6" fill="#000" stroke="#000" stroke-width="0.12" font-size="12.2" letter-spacing="0.5">新订单</text>
<g stroke-linejoin="round"><path d="M87.4,4.3 L97.2,10.4 L97.9,12.9 L89.8,18.8 L82.2,13.2 L85.4,9.4 Z" fill="#c78f1c" stroke="#9a6408" stroke-width="1"/><path d="M87.7,5.2 L96.3,10.6 L90.3,15.4 L84.6,11.4 L86.3,8.6 Z" fill="url(#gold)"/><path d="M83.4,13 L89.9,17.4 L96.8,12.2" fill="none" stroke="#f3d77a" stroke-width="0.9"/></g>
<g><path d="M112.4,4.2 L115.4,3.2 H122.2 L123,5 V12.5 H112.4 Z" fill="#1b9aff" stroke="#1784e6" stroke-width="0.6"/><path d="M112.6,4.6 L115.4,6.2 V12.5 H112.6 Z" fill="#56b8ff"/><path d="M115.4,6.2 L112.6,4.4" stroke="#e8f4ff" stroke-width="0.7"/><path d="M117.4,8.2 L121.6,7.4" stroke="#f2f8ff" stroke-width="1"/><path d="M117,10.6 H122.6" stroke="#bfe2ff" stroke-width="0.8"/><path d="M112.6,18.7 A2.7,2.7 0 0 1 112.4,13.6 A2.6,2.6 0 0 1 115.8,12.3 A3.1,3.1 0 0 1 120.9,12.6 A2.5,2.5 0 0 1 123.8,13.9 A2.5,2.5 0 0 1 123.6,18.7 Z" fill="#e3e9f3" stroke="#4a6aaa" stroke-width="0.9"/><path d="M112.4,14.6 A2.2,2.2 0 0 1 115.6,13.1 A2.8,2.8 0 0 1 120.6,13.4 A2.2,2.2 0 0 1 123.4,14.8 Z" fill="#ffffff" opacity="0.9"/></g>
<g fill="none"><circle cx="145.9" cy="10.9" r="7.6" stroke="#6a8fdc" stroke-width="1.15" opacity="0.8"/><circle cx="145.9" cy="10.9" r="5.2" stroke="#6a8fdc" stroke-width="1.15" opacity="0.85"/><circle cx="145.9" cy="10.9" r="3" stroke="#5f85d8" stroke-width="1.15" opacity="0.9"/><path d="M146.3,10.9 L150.6,4.4 A8,8 0 0 1 146.3,18.9 Z" fill="url(#sgreen)" opacity="0.68"/><path d="M150.3,4.8 A7.6,7.6 0 0 1 146.5,18.5" stroke="#4a8a6a" stroke-width="0.9" opacity="0.7"/><circle cx="145.7" cy="10.7" r="1.9" fill="#2a5fd6"/><path d="M146.6,11 V18.9" stroke="#18a018" stroke-width="1.3"/></g>
<g><path d="M165.4,10.2 L180.8,9.6 L174.2,18.9 L172.2,18.6 Z" fill="url(#ycone)" stroke="#d0a21a" stroke-width="0.8"/><path d="M165.3,8.2 Q165.6,5.6 169.6,6.2 Q170.4,3 173,3.1 Q175.4,3 176.2,5.6 Q180.4,4.6 181,6.8 Q179.6,9.6 173.4,10 Q166.4,10.4 165.3,8.2 Z" fill="#52ace2" stroke="#1d82b4" stroke-width="0.8"/><path d="M169.6,6.4 Q172.8,8 176.2,5.8" fill="none" stroke="#2f8fc6" stroke-width="0.6"/><circle cx="177.4" cy="14.7" r="4.2" fill="url(#badge)" stroke="#c02010" stroke-width="0.5"/><rect x="175.9" y="13.2" width="3" height="3" fill="#fff"/></g>
<text x="185.6" y="14.6" fill="#000" stroke="#000" stroke-width="0.12" font-size="12.2" letter-spacing="-0.1">自动交易</text>
<rect x="241" y="0" width="1" height="23" fill="#8a8a8a"/>
<rect x="242" y="0" width="1" height="22" fill="#fff"/>
<rect x="245" y="1" width="3" height="1" fill="#9a9a9a"/>
<rect x="245" y="2" width="3" height="1" fill="#fbfbfb"/>
<rect x="245" y="3" width="3" height="1" fill="#9a9a9a"/>
<rect x="245" y="4" width="3" height="1" fill="#fbfbfb"/>
<rect x="245" y="5" width="3" height="1" fill="#9a9a9a"/>
<rect x="245" y="6" width="3" height="1" fill="#fbfbfb"/>
<rect x="245" y="7" width="3" height="1" fill="#9a9a9a"/>
<rect x="245" y="8" width="3" height="1" fill="#fbfbfb"/>
<rect x="245" y="9" width="3" height="1" fill="#9a9a9a"/>
<rect x="245" y="10" width="3" height="1" fill="#fbfbfb"/>
<rect x="245" y="11" width="3" height="1" fill="#9a9a9a"/>
<rect x="245" y="12" width="3" height="1" fill="#fbfbfb"/>
<rect x="245" y="13" width="3" height="1" fill="#9a9a9a"/>
<rect x="245" y="14" width="3" height="1" fill="#fbfbfb"/>
<rect x="245" y="15" width="3" height="1" fill="#9a9a9a"/>
<rect x="245" y="16" width="3" height="1" fill="#fbfbfb"/>
<rect x="245" y="17" width="3" height="1" fill="#9a9a9a"/>
<rect x="245" y="18" width="3" height="1" fill="#fbfbfb"/>
<rect x="245" y="19" width="3" height="1" fill="#9a9a9a"/>
<rect x="245" y="20" width="3" height="1" fill="#fbfbfb"/>
<g stroke="#555" stroke-width="1.1" fill="none"><path d="M259.5,5.5 V18.5 M257,16.5 H270.5"/><path d="M258.1,7.4 L259.5,5.4 L260.9,7.4 M268.8,15.1 L270.8,16.5 L268.8,17.9"/></g>
<path d="M265.5,6 V15 M265.5,7.5 H268 M263,13.5 H265.5" stroke="#0a8a0a" stroke-width="1.3" fill="none"/>
<rect x="279" y="0" width="1" height="21" fill="#a0a0a0"/>
<rect x="280" y="0" width="1" height="21" fill="#fff"/>
<rect x="280" y="1" width="24" height="20" fill="url(#chk)"/>
<rect x="280" y="21" width="25" height="1" fill="#fff"/>
<rect x="304" y="1" width="1" height="20" fill="#fff"/>
<g stroke="#555" stroke-width="1.1" fill="none"><path d="M287.5,5.5 V18.5 M285,16.5 H298.5"/><path d="M286.1,7.4 L287.5,5.4 L288.9,7.4 M296.8,15.1 L298.8,16.5 L296.8,17.9"/></g>
<path d="M293.5,3 V15" stroke="#0a8a0a" stroke-width="1.2"/><rect x="291.2" y="5.2" width="4.6" height="7.6" fill="#2fe02f" stroke="#0a8a0a" stroke-width="1"/>
<g stroke="#555" stroke-width="1.1" fill="none"><path d="M315.5,5.5 V18.5 M313,16.5 H326.5"/><path d="M314.1,7.4 L315.5,5.4 L316.9,7.4 M324.8,15.1 L326.8,16.5 L324.8,17.9"/></g>
<path d="M314,13.8 Q317,11 320,8.2 Q323,9.5 325.8,12.2" stroke="#1a9a1a" stroke-width="1.3" fill="none"/>
<rect x="336" y="0" width="1" height="21" fill="#a0a0a0"/>
<rect x="337" y="0" width="1" height="21" fill="#fff"/>
<g><path d="M354.8,13.3 L359.6,17.700000000000003" stroke="#ad7a14" stroke-width="3.6" stroke-linecap="butt"/><path d="M354.8,13.3 L359.3,17.4" stroke="#f0d22c" stroke-width="2"/><circle cx="351" cy="8.9" r="5.7" fill="#d9f0fc" stroke="#3a80c8" stroke-width="1.1"/><path d="M347.8,8.9 H354.2 M351,5.7 V12.100000000000001" stroke="#4088b4" stroke-width="1.9"/></g>
<g><path d="M382.8,13.3 L387.6,17.700000000000003" stroke="#ad7a14" stroke-width="3.6" stroke-linecap="butt"/><path d="M382.8,13.3 L387.3,17.4" stroke="#f0d22c" stroke-width="2"/><circle cx="379" cy="8.9" r="5.7" fill="#d9f0fc" stroke="#3a80c8" stroke-width="1.1"/><path d="M375.8,8.9 H382.2" stroke="#4088b4" stroke-width="1.9"/></g>
<rect x="401" y="3" width="8" height="8" fill="#3ea31c"/>
<rect x="402.3" y="6.4" width="5.4" height="3.8" fill="#f6faff"/>
<rect x="403.4" y="7.7" width="3.2" height="0.7" fill="#3ea31c" opacity="0.45"/>
<rect x="402.2" y="4.2" width="1" height="1" fill="#e6f4ea"/>
<rect x="409" y="3" width="8" height="8" fill="#2860d8"/>
<rect x="410.3" y="6.4" width="5.4" height="3.8" fill="#f6faff"/>
<rect x="411.4" y="7.7" width="3.2" height="0.7" fill="#2860d8" opacity="0.45"/>
<rect x="410.2" y="4.2" width="1" height="1" fill="#e6f4ea"/>
<rect x="401" y="11" width="8" height="8" fill="#2860d8"/>
<rect x="402.3" y="14.4" width="5.4" height="3.8" fill="#f6faff"/>
<rect x="403.4" y="15.7" width="3.2" height="0.7" fill="#2860d8" opacity="0.45"/>
<rect x="402.2" y="12.2" width="1" height="1" fill="#e6f4ea"/>
<rect x="409" y="11" width="8" height="8" fill="#3ea31c"/>
<rect x="410.3" y="14.4" width="5.4" height="3.8" fill="#f6faff"/>
<rect x="411.4" y="15.7" width="3.2" height="0.7" fill="#3ea31c" opacity="0.45"/>
<rect x="410.2" y="12.2" width="1" height="1" fill="#e6f4ea"/>
<rect x="426" y="0" width="1" height="21" fill="#a0a0a0"/>
<rect x="427" y="0" width="1" height="21" fill="#fff"/>
<rect x="431" y="0" width="1" height="21" fill="#a0a0a0"/>
<rect x="432" y="0" width="1" height="21" fill="#fff"/>
<rect x="432" y="1" width="24" height="20" fill="url(#chk)"/>
<rect x="432" y="21" width="25" height="1" fill="#fff"/>
<rect x="456" y="1" width="1" height="20" fill="#fff"/>
<g stroke="#555" stroke-width="1.1" fill="none"><path d="M439.5,5.5 V18.5 M437,16.5 H450.5"/><path d="M438.1,7.4 L439.5,5.4 L440.9,7.4 M448.8,15.1 L450.8,16.5 L448.8,17.9"/></g>
<polygon points="444,7 444,14 448,10.5" fill="#2fd02f" stroke="#0a8a0a" stroke-width="0.8"/>
<rect x="459" y="0" width="1" height="21" fill="#a0a0a0"/>
<rect x="460" y="0" width="1" height="21" fill="#fff"/>
<rect x="460" y="1" width="24" height="20" fill="url(#chk)"/>
<rect x="460" y="21" width="25" height="1" fill="#fff"/>
<rect x="484" y="1" width="1" height="20" fill="#fff"/>
<g stroke="#555" stroke-width="1.1" fill="none"><path d="M467.5,5.5 V18.5 M465,16.5 H478.5"/><path d="M466.1,7.4 L467.5,5.4 L468.9,7.4 M476.8,15.1 L478.8,16.5 L476.8,17.9"/></g>
<path d="M473.5,5 V15" stroke="#1f78b8" stroke-width="1.3"/><path d="M474.5,10.5 H479 M477.5,8.3 L475,10.5 L477.5,12.7" stroke="#d8481a" stroke-width="1.3" fill="none"/>
<rect x="488" y="0" width="1" height="21" fill="#a0a0a0"/>
<rect x="489" y="0" width="1" height="21" fill="#fff"/>
<g><path d="M498.5,3.5 H506 L509.5,7 V16.5 H498.5 Z" fill="#fdfdfd" stroke="#8a8a8a" stroke-width="1"/><path d="M502.5,6 Q500.5,6 501.5,9 Q500,10 501.5,11 Q500.5,14 502.5,14" fill="none" stroke="#555" stroke-width="0.8"/><path d="M506.4,9.7 H509.6 V13.4 H513.6 V16.6 H509.6 V20.5 H506.4 V16.6 H502.4 V13.4 H506.4 Z" fill="url(#gplus)" stroke="#0a8a0a" stroke-width="0.8"/></g>
<polygon points="519.8000000000001,9.6 525.6,9.6 522.7,13" fill="#000"/>
<g><circle cx="544" cy="11" r="7.9" fill="url(#clk)"/><circle cx="544" cy="10.9" r="5" fill="#f4f6fa"/><path d="M544.2,7.4 V10.8 H547" stroke="#222" stroke-width="1" fill="none"/><path d="M543.4,13.4 H545" stroke="#5a9af0" stroke-width="0.6"/></g>
<polygon points="558.6,9.6 564.4,9.6 561.5,13" fill="#000"/>
<g><rect x="575.5" y="4.5" width="15" height="13" fill="#fff" stroke="#2a68c0" stroke-width="1"/><rect x="576" y="5" width="14" height="2.4" fill="url(#bluebar)"/><path d="M576,12.5 H590" stroke="#2a68c0" stroke-width="0.8"/><path d="M577.5,10.5 L580,9.5 L582,8.5 L584.5,9.8 L587,9 L589,8.2" stroke="#b02a10" stroke-width="1.2" fill="none"/><path d="M577.5,16 L580,15 L582.5,15.6 L585,13.6 L587,14.8 L589,16" stroke="#18901a" stroke-width="1.1" fill="none"/></g>
<polygon points="597.8000000000001,9.6 603.6,9.6 600.7,13" fill="#000"/>
<rect x="609" y="0" width="1" height="23" fill="#8a8a8a"/>
<rect x="610" y="0" width="1" height="22" fill="#fff"/>
<rect x="613" y="1" width="3" height="1" fill="#9a9a9a"/>
<rect x="613" y="2" width="3" height="1" fill="#fbfbfb"/>
<rect x="613" y="3" width="3" height="1" fill="#9a9a9a"/>
<rect x="613" y="4" width="3" height="1" fill="#fbfbfb"/>
<rect x="613" y="5" width="3" height="1" fill="#9a9a9a"/>
<rect x="613" y="6" width="3" height="1" fill="#fbfbfb"/>
<rect x="613" y="7" width="3" height="1" fill="#9a9a9a"/>
<rect x="613" y="8" width="3" height="1" fill="#fbfbfb"/>
<rect x="613" y="9" width="3" height="1" fill="#9a9a9a"/>
<rect x="613" y="10" width="3" height="1" fill="#fbfbfb"/>
<rect x="613" y="11" width="3" height="1" fill="#9a9a9a"/>
<rect x="613" y="12" width="3" height="1" fill="#fbfbfb"/>
<rect x="613" y="13" width="3" height="1" fill="#9a9a9a"/>
<rect x="613" y="14" width="3" height="1" fill="#fbfbfb"/>
<rect x="613" y="15" width="3" height="1" fill="#9a9a9a"/>
<rect x="613" y="16" width="3" height="1" fill="#fbfbfb"/>
<rect x="613" y="17" width="3" height="1" fill="#9a9a9a"/>
<rect x="613" y="18" width="3" height="1" fill="#fbfbfb"/>
<rect x="613" y="19" width="3" height="1" fill="#9a9a9a"/>
<rect x="613" y="20" width="3" height="1" fill="#fbfbfb"/>
<rect x="619" y="0" width="1" height="21" fill="#a0a0a0"/>
<rect x="620" y="0" width="1" height="21" fill="#fff"/>
<rect x="620" y="1" width="24" height="20" fill="url(#chk)"/>
<rect x="620" y="21" width="25" height="1" fill="#fff"/>
<rect x="644" y="1" width="1" height="20" fill="#fff"/>
<path d="M627.2,3.8 V15.6 L630,13 L632.4,18.4 L634.2,17.6 L631.8,12.4 L635.2,12 Z" fill="#4a4a4a"/>
<path d="M659.5,4 V10 M659.5,13 V19 M652,11.5 H658 M661,11.5 H667" stroke="#4a4a4a" stroke-width="1.2"/><rect x="659" y="11" width="1" height="1" fill="#4a4a4a"/>
<rect x="676" y="0" width="1" height="21" fill="#a0a0a0"/>
<rect x="677" y="0" width="1" height="21" fill="#fff"/>
<rect x="693" y="5" width="1" height="13" fill="#4a4a4a"/>
<rect x="716" y="11" width="12" height="1" fill="#4a4a4a"/>
<path d="M743.8,18 L756,5.8" stroke="#4a4a4a" stroke-width="1.2"/>
<g stroke="#4a4a4a" stroke-width="0.9" fill="none"><path d="M769.5,12.6 L781.6,5 M771,17.2 L783.8,9.4"/><path d="M774.4,7.4 L773,18.2 M777.4,5.4 L776,16.2 M780.4,3.4 L779,14 M783.2,3 L782.2,11"/></g>
<text x="781" y="19.6" fill="#4a4a4a" stroke="#4a4a4a" stroke-width="0" font-size="7" font-weight="bold">E</text>
<line x1="799" y1="4.5" x2="812" y2="4.5" stroke="#4a4a4a" stroke-width="1" stroke-dasharray="1,1" shape-rendering="crispEdges"/>
<line x1="799" y1="7.5" x2="812" y2="7.5" stroke="#4a4a4a" stroke-width="1" stroke-dasharray="1,1" shape-rendering="crispEdges"/>
<line x1="799" y1="11.5" x2="812" y2="11.5" stroke="#4a4a4a" stroke-width="1" stroke-dasharray="1,1" shape-rendering="crispEdges"/>
<line x1="799" y1="15.5" x2="808" y2="15.5" stroke="#4a4a4a" stroke-width="1" stroke-dasharray="1,1" shape-rendering="crispEdges"/>
<text x="808.6" y="19.6" fill="#4a4a4a" stroke="#4a4a4a" stroke-width="0" font-size="7" font-weight="bold">F</text>
<text x="829.8" y="15.8" fill="#4a4a4a" stroke="#4a4a4a" stroke-width="0" font-size="12" font-weight="bold">A</text>
<rect x="856.5" y="5.5" width="11" height="12" fill="none" stroke="#4a4a4a" stroke-width="1" stroke-dasharray="1,1" shape-rendering="crispEdges"/><rect x="855" y="4" width="2" height="2" fill="#4a4a4a"/>
<text x="858.3" y="16" fill="#4a4a4a" stroke="#4a4a4a" stroke-width="0" font-size="11.5" font-weight="bold">T</text>
<g fill="#4a4a4a"><polygon points="883,8.6 886.6,5 890.2,8.6 886.6,9.8"/><polygon points="890,14.4 893.6,13.2 897.2,14.4 893.6,18"/><path d="M885.6,11.6 L888,14 L892,9.4" stroke="#4a4a4a" stroke-width="1.3" fill="none"/></g>
<polygon points="903.8000000000001,9.6 909.6,9.6 906.7,13" fill="#000"/>
<rect x="915" y="0" width="1" height="23" fill="#8a8a8a"/>
<rect x="916" y="0" width="1" height="22" fill="#fff"/>
<rect x="919" y="1" width="3" height="1" fill="#9a9a9a"/>
<rect x="919" y="2" width="3" height="1" fill="#fbfbfb"/>
<rect x="919" y="3" width="3" height="1" fill="#9a9a9a"/>
<rect x="919" y="4" width="3" height="1" fill="#fbfbfb"/>
<rect x="919" y="5" width="3" height="1" fill="#9a9a9a"/>
<rect x="919" y="6" width="3" height="1" fill="#fbfbfb"/>
<rect x="919" y="7" width="3" height="1" fill="#9a9a9a"/>
<rect x="919" y="8" width="3" height="1" fill="#fbfbfb"/>
<rect x="919" y="9" width="3" height="1" fill="#9a9a9a"/>
<rect x="919" y="10" width="3" height="1" fill="#fbfbfb"/>
<rect x="919" y="11" width="3" height="1" fill="#9a9a9a"/>
<rect x="919" y="12" width="3" height="1" fill="#fbfbfb"/>
<rect x="919" y="13" width="3" height="1" fill="#9a9a9a"/>
<rect x="919" y="14" width="3" height="1" fill="#fbfbfb"/>
<rect x="919" y="15" width="3" height="1" fill="#9a9a9a"/>
<rect x="919" y="16" width="3" height="1" fill="#fbfbfb"/>
<rect x="919" y="17" width="3" height="1" fill="#9a9a9a"/>
<rect x="919" y="18" width="3" height="1" fill="#fbfbfb"/>
<rect x="919" y="19" width="3" height="1" fill="#9a9a9a"/>
<rect x="919" y="20" width="3" height="1" fill="#fbfbfb"/>
<text transform="translate(930.5,15) matrix(0.9100,0.002,0,1,0,0)" fill="#454545" stroke="#454545" stroke-width="0.1" font-size="10.6">M1</text>
<text transform="translate(958.6,15) matrix(0.9100,0.002,0,1,0,0)" fill="#454545" stroke="#454545" stroke-width="0.1" font-size="10.6">M5</text>
<text transform="translate(984.6,15) matrix(0.8826,0.002,0,1,0,0)" fill="#454545" stroke="#454545" stroke-width="0.1" font-size="10.6">M15</text>
<text transform="translate(1012.8,15) matrix(0.8826,0.002,0,1,0,0)" fill="#454545" stroke="#454545" stroke-width="0.1" font-size="10.6">M30</text>
<text transform="translate(1043.4,15) matrix(0.9004,0.002,0,1,0,0)" fill="#454545" stroke="#454545" stroke-width="0.1" font-size="10.6">H1</text>
<text transform="translate(1099.1,15) matrix(0.9004,0.002,0,1,0,0)" fill="#454545" stroke="#454545" stroke-width="0.1" font-size="10.6">D1</text>
<text transform="translate(1127,15) matrix(0.9182,0.002,0,1,0,0)" fill="#454545" stroke="#454545" stroke-width="0.1" font-size="10.6">W1</text>
<text transform="translate(1153.4,15) matrix(0.9342,0.002,0,1,0,0)" fill="#454545" stroke="#454545" stroke-width="0.1" font-size="10.6">MN</text>
<rect x="1065" y="0" width="1" height="21" fill="#a0a0a0"/>
<rect x="1066" y="0" width="1" height="21" fill="#fff"/>
<rect x="1066" y="1" width="24" height="20" fill="url(#chk)"/>
<rect x="1066" y="21" width="25" height="1" fill="#fff"/>
<rect x="1090" y="1" width="1" height="20" fill="#fff"/>
<text transform="translate(1070.6,15) matrix(0.9446,0.002,0,1,0,0)" fill="#454545" stroke="#454545" stroke-width="0.1" font-size="10.6">H4</text>
<rect x="1176" y="0" width="1" height="23" fill="#8a8a8a"/>
<rect x="1177" y="0" width="1" height="22" fill="#fff"/>
<g><path d="M1643.6,11.6 L1638.8,16.2" stroke="#2258d0" stroke-width="2.4"/><circle cx="1646.8" cy="8.5" r="3.9" fill="#f4f6fc" stroke="#2a5cd2" stroke-width="1.3"/></g>
<g><path d="M1664,13 A5.5,4.6 0 0 1 1675,13 A5.5,4.6 0 0 1 1669.5,17.6 L1667,19.6 L1667.2,17.2 A5.5,4.6 0 0 1 1664,13 Z" fill="#e6e8f0" stroke="#a8a8a8" stroke-width="0.8"/><circle cx="1677.5" cy="8.4" r="8.3" fill="url(#badge)"/></g>
<text x="1673.4" y="13.3" fill="#fff" stroke="#fff" stroke-width="0.25" font-size="13.5" font-family="'Liberation Serif', serif" letter-spacing="0">1</text>
</svg>
</body></html>
